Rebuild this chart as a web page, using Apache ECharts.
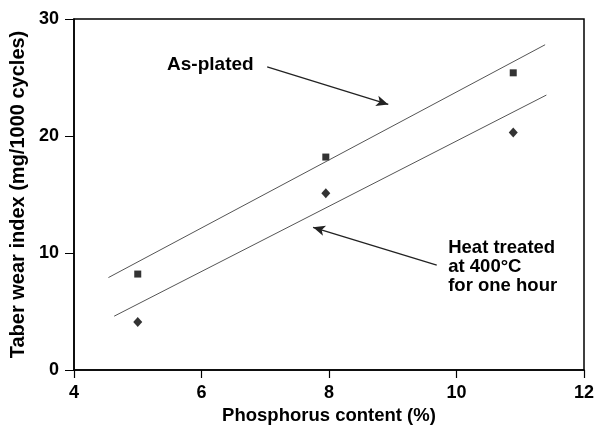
<!DOCTYPE html>
<html>
<head>
<meta charset="utf-8">
<script src="https://cdn.jsdelivr.net/npm/echarts@6/dist/echarts.min.js"></script>
<style>html,body{margin:0;padding:0;background:#fff;}#c{width:602px;height:432px;}</style>
</head>
<body>
<div id="c"></div>
<script>
// Data
const asPlatedX = [5.0, 7.95, 10.89];
const asPlatedY = [8.2, 18.2, 25.4];
const heatX = [5.0, 7.95, 10.89];
const heatY = [4.1, 15.1, 20.3];
const asPlatedFitX = [4.54, 11.39];
const asPlatedFitY = [7.9, 27.8];
const heatFitX = [4.63, 11.41];
const heatFitY = [4.6, 23.5];
const xTicks = [4, 6, 8, 10, 12];
const yTicks = [0, 10, 20, 30];
const asPlatedArrow = [[7.03, 25.9], [8.93, 22.7]];
const heatArrow = [[9.69, 8.97], [7.75, 12.2]];
const asPlatedLabelAt = [5.46, 26.1];
const heatLabelAt = [9.87, 11.2];
const asPlatedLabel = 'As-plated';
const heatLabel = 'Heat treated\nat 400°C\nfor one hour';

const pair = (xs, ys) => xs.map((x, i) => [x, ys[i]]);
const FONT = '"Liberation Sans", Arial, sans-serif';

const chart = echarts.init(document.getElementById('c'), null, {renderer: 'canvas'});
chart.setOption({
  animation: false,
  backgroundColor: '#fff',
  grid: {left: 74, right: 18, top: 19, bottom: 62, show: true, borderColor: '#000', borderWidth: 1.5},
  xAxis: {
    type: 'value', min: xTicks[0], max: xTicks[xTicks.length - 1], interval: 2,
    name: 'Phosphorus content (%)', nameLocation: 'middle', nameGap: 33,
    nameTextStyle: {fontFamily: FONT, fontWeight: 'bold', fontSize: 18.5, color: '#000'},
    axisLine: {lineStyle: {color: '#000', width: 1.5}},
    axisTick: {length: 8, lineStyle: {color: '#000', width: 1.2}},
    axisLabel: {fontFamily: FONT, fontWeight: 'bold', fontSize: 18, color: '#000', margin: 14},
    splitLine: {show: false}
  },
  yAxis: {
    type: 'value', min: yTicks[0], max: yTicks[yTicks.length - 1], interval: 10,
    name: 'Taber wear index (mg/1000 cycles)', nameLocation: 'middle', nameGap: 40,
    nameTextStyle: {fontFamily: FONT, fontWeight: 'bold', fontSize: 20, color: '#000'},
    axisLine: {lineStyle: {color: '#000', width: 1.5}},
    axisTick: {length: 9, lineStyle: {color: '#000', width: 1}},
    axisLabel: {fontFamily: FONT, fontWeight: 'bold', fontSize: 18, color: '#000', margin: 15},
    splitLine: {show: false}
  },
  series: [
    {type: 'line', data: pair(asPlatedFitX, asPlatedFitY), symbol: 'none',
     lineStyle: {color: '#555', width: 1}, silent: true,
     markLine: {symbol: ['none', 'arrow'], symbolSize: [8, 12], silent: true,
       lineStyle: {color: '#222', width: 1.3, type: 'solid'}, label: {show: false},
       data: [[{coord: asPlatedArrow[0]}, {coord: asPlatedArrow[1]}]]}},
    {type: 'line', data: pair(heatFitX, heatFitY), symbol: 'none',
     lineStyle: {color: '#555', width: 1}, silent: true,
     markLine: {symbol: ['none', 'arrow'], symbolSize: [8, 12], silent: true,
       lineStyle: {color: '#222', width: 1.3, type: 'solid'}, label: {show: false},
       data: [[{coord: heatArrow[0]}, {coord: heatArrow[1]}]]}},
    {type: 'scatter', data: pair(asPlatedX, asPlatedY), symbol: 'rect', symbolSize: 7,
     itemStyle: {color: '#000'}},
    {type: 'scatter', data: pair(heatX, heatY), symbol: 'diamond', symbolSize: [9, 10],
     itemStyle: {color: '#000'}}
  ]
});

const p1 = chart.convertToPixel({gridIndex: 0}, asPlatedLabelAt);
const p2 = chart.convertToPixel({gridIndex: 0}, heatLabelAt);
chart.setOption({
  graphic: [
    {type: 'text', x: p1[0], y: p1[1], style: {text: asPlatedLabel, font: 'bold 19px ' + FONT, fill: '#000', textVerticalAlign: 'middle'}},
    {type: 'text', x: p2[0], y: p2[1] - 1, style: {text: heatLabel, font: 'bold 18.5px ' + FONT, fill: '#000', lineHeight: 19, textVerticalAlign: 'top'}}
  ]
});
</script>
</body>
</html>
